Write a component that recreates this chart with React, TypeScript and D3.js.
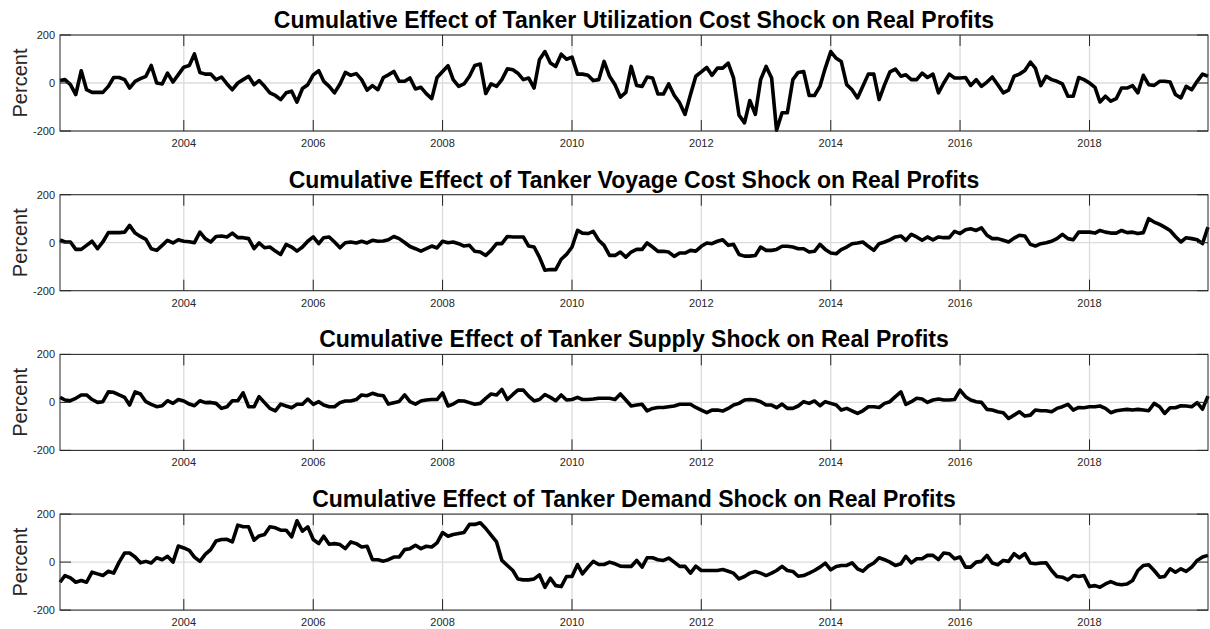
import { useMemo } from "react";
import * as d3 from "d3";

// monthly observations, Feb 2002 .. Nov 2019
const START = new Date(2002, 1, 1);

const utilization = [
  10, 14, -7, -48, 51, -28, -39, -39, -39, -14, 23, 23,
  14, -21, 7, 18, 28, 73, 0, -4, 41, 4, 35, 66,
  73, 121, 44, 37, 37, 14, 25, -4, -28, 0, 14, 28,
  -7, 10, -14, -41, -52, -69, -41, -34, -80, -23, -7, 34,
  51, 7, -14, -41, -4, 44, 32, 39, 14, -30, -11, -28,
  23, 34, 48, 7, 7, 21, -25, -18, -44, -65, 23, 48,
  72, 14, -14, -4, 28, 73, 79, -44, -4, -14, 14, 59,
  55, 41, 14, 21, -21, 97, 131, 83, 69, 120, 99, 108,
  37, 37, 32, 10, 14, 90, 28, -7, -59, -39, 69, -10,
  -14, 25, 21, -46, -46, -4, -51, -83, -131, -48, 28, 46,
  65, 32, 62, 62, 83, 21, -134, -166, -73, -131, 14, 69,
  21, -197, -124, -124, 14, 44, 48, -52, -52, -14, 62, 131,
  103, 90, -7, -28, -62, -14, 37, 37, -69, -7, 46, 58,
  28, 34, 14, 14, 41, 23, 37, -41, 0, 37, 21, 21,
  23, -10, 14, -14, 4, 25, -7, -41, -30, 28, 37, 52,
  87, 62, -11, 28, 14, 7, -4, -55, -55, 23, 14, 0,
  -18, -79, -55, -76, -65, -21, -21, -11, -41, 32, -7, -10,
  7, 7, 4, -48, -62, -14, -28, 7, 37, 28,
];

const voyage = [
  12, 3, 3, -28, -28, -11, 6, -25, 3, 42, 42, 42,
  44, 72, 40, 26, 14, -25, -32, -11, 10, -1, 12, 6,
  4, 0, 44, 17, 3, 26, 28, 24, 40, 21, 21, 17,
  -25, -1, -21, -18, -35, -49, -7, -18, -35, -18, 6, 24,
  -4, 21, 24, 3, -21, 0, 3, -1, 6, -1, 10, 6,
  7, 12, 26, 17, 1, -16, -25, -35, -25, -14, -22, 6,
  0, 3, -4, -14, -11, -36, -39, -53, -32, -4, -4, 26,
  24, 24, 24, -14, -18, -60, -115, -112, -112, -69, -49, -18,
  51, 40, 38, 47, 10, -11, -53, -53, -39, -60, -39, -28,
  -28, -1, -18, -36, -36, -39, -57, -43, -43, -32, -35, -15,
  -1, -4, 6, 12, -11, -7, -49, -56, -56, -53, -18, -32,
  -32, -28, -15, -15, -18, -25, -25, -39, -36, -7, -28, -43,
  -46, -29, -18, -4, -1, 3, -15, -32, -4, 3, 12, 24,
  28, 10, 35, 24, 10, 24, 12, 24, 21, 21, 47, 38,
  54, 58, 51, 62, 31, 17, 17, 10, 3, 19, 31, 28,
  -7, -14, -4, 0, 6, 17, 35, 17, 12, 44, 44, 44,
  40, 51, 44, 40, 40, 51, 42, 44, 38, 42, 100, 86,
  76, 65, 51, 26, 3, 21, 17, 12, -4, 65,
];

const supply = [
  21, 10, 7, 17, 31, 31, 12, 0, 3, 44, 42, 31,
  21, -11, 44, 35, 3, -8, -18, -14, 7, -4, 12, 6,
  -7, -14, 7, -1, 0, -4, -25, -18, 7, 7, 40, -18,
  -18, 24, -1, -25, -35, -7, -15, -22, -8, -8, 14, -8,
  3, -11, -18, -18, -1, 6, 6, 12, 31, 28, 38, 31,
  28, -7, -1, 4, 31, 3, -7, 6, 10, 12, 12, 40,
  -15, -7, 7, 6, -1, -8, -4, 17, 35, 31, 54, 12,
  33, 51, 51, 26, 6, 12, 33, 21, 7, 31, 10, 12,
  21, 12, 12, 14, 17, 17, 17, 12, 35, 10, -15, -11,
  -8, -35, -25, -21, -21, -18, -15, -8, -8, -8, -21, -32,
  -43, -32, -32, -36, -25, -11, -4, 10, 12, 10, 3, -11,
  -11, -22, -7, -25, -25, -15, 3, -4, 6, -14, 3, -4,
  -11, -32, -25, -35, -46, -35, -18, -18, -21, -4, 3, 24,
  44, -8, 3, 17, 14, 0, 10, 14, 10, 10, 12, 51,
  24, 10, 3, 0, -29, -32, -39, -43, -67, -53, -39, -57,
  -53, -32, -35, -35, -39, -25, -18, -8, -32, -21, -22, -18,
  -18, -15, -25, -43, -35, -32, -29, -32, -29, -32, -35, -4,
  -18, -46, -22, -22, -14, -15, -18, -1, -28, 26,
];

const demand = [
  -84, -56, -66, -84, -77, -84, -42, -49, -56, -38, -46, 0,
  38, 38, 21, -3, 3, -4, 18, 10, 24, 0, 67, 59,
  49, 21, 3, 32, 52, 88, 94, 95, 84, 154, 147, 147,
  91, 109, 115, 147, 143, 133, 133, 105, 172, 129, 147, 94,
  77, 108, 74, 77, 73, 56, 84, 77, 63, 66, 10, 10,
  4, 10, 21, 21, 52, 56, 70, 56, 66, 63, 80, 123,
  108, 115, 119, 123, 157, 157, 164, 140, 112, 84, 7, -14,
  -35, -70, -74, -74, -70, -53, -105, -67, -98, -102, -60, -60,
  -10, -49, -21, 3, -10, -10, 0, -7, -17, -18, -18, 7,
  -21, 18, 18, 10, 7, 17, 0, -18, -18, -46, -17, -35,
  -35, -35, -35, -31, -38, -46, -70, -60, -46, -39, -46, -56,
  -46, -35, -18, -35, -39, -59, -56, -46, -35, -21, -4, -32,
  -18, -14, -14, -3, -28, -38, -17, -4, 18, 10, 0, -14,
  -7, 24, -3, 14, 14, 28, 28, 10, 38, 35, 14, 21,
  -21, -21, 0, 3, 28, -4, -11, 7, 3, 35, 18, 35,
  -4, -7, -4, -3, -35, -60, -63, -74, -56, -60, -56, -102,
  -98, -105, -91, -81, -91, -94, -91, -77, -35, -14, -11, -35,
  -63, -60, -28, -42, -28, -39, -21, 7, 21, 28,
];

const titles = [
  "Cumulative Effect of Tanker Utilization Cost Shock on Real Profits",
  "Cumulative Effect of Tanker Voyage Cost Shock on Real Profits",
  "Cumulative Effect of Tanker Supply Shock on Real Profits",
  "Cumulative Effect of Tanker Demand Shock on Real Profits",
];
const series = [utilization, voyage, supply, demand];
const yTicks = [-200, 0, 200];
const yLabel = "Percent";

const W = 1210;
const H = 629;
const LEFT = 60;
const RIGHT = 1208;
const TOP0 = 35;
const STEP = 159.7;
const PH = 96;
const TICK = 11;
const FONT = "'Liberation Sans', Arial, Helvetica, sans-serif";
const AXIS = "#262626";

type PanelProps = { values: number[]; title: string; top: number };

const Panel = ({ values, title, top }: PanelProps) => {
  const dates = useMemo(() => values.map((_, i) => d3.timeMonth.offset(START, i)), [values]);
  const x = d3.scaleTime().domain(d3.extent(dates) as [Date, Date]).range([LEFT, RIGHT]);
  const y = d3.scaleLinear().domain([-200, 200]).range([top + PH, top]);
  const xTicks = x.ticks(d3.timeYear.every(2)!);
  const path = d3
    .line<number>()
    .x((_, i) => x(dates[i]))
    .y((d) => y(d))(values);
  const bottom = top + PH;

  return (
    <g>
      {/* grid */}
      {xTicks.map((t, i) => (
        <line key={"gx" + i} x1={x(t)} x2={x(t)} y1={top} y2={bottom} stroke="#dcdcdc" strokeWidth={1.3} />
      ))}
      {yTicks.map((v, i) => (
        <line key={"gy" + i} x1={LEFT} x2={RIGHT} y1={y(v)} y2={y(v)} stroke="#dcdcdc" strokeWidth={1.3} />
      ))}
      <path d={path || undefined} fill="none" stroke="#000" strokeWidth={3.6} strokeLinejoin="round" />
      <rect x={LEFT} y={top} width={RIGHT - LEFT} height={PH} fill="none" stroke={AXIS} strokeWidth={1} />
      {/* ticks, inward on all four sides */}
      {xTicks.map((t, i) => (
        <g key={"tx" + i}>
          <line x1={x(t)} x2={x(t)} y1={bottom} y2={bottom - TICK} stroke={AXIS} />
          <line x1={x(t)} x2={x(t)} y1={top} y2={top + TICK} stroke={AXIS} />
          <text x={x(t)} y={bottom + 16} textAnchor="middle" fontSize={11} fontFamily={FONT} fill={AXIS}>
            {d3.timeFormat("%Y")(t)}
          </text>
        </g>
      ))}
      {yTicks.map((v, i) => (
        <g key={"ty" + i}>
          <line x1={LEFT} x2={LEFT + TICK} y1={y(v)} y2={y(v)} stroke={AXIS} />
          <line x1={RIGHT} x2={RIGHT - TICK} y1={y(v)} y2={y(v)} stroke={AXIS} />
          <text x={LEFT - 5} y={y(v)} dy="0.35em" textAnchor="end" fontSize={11} fontFamily={FONT} fill={AXIS}>
            {String(v)}
          </text>
        </g>
      ))}
      <text
        transform={`translate(27, ${top + PH / 2}) rotate(-90)`}
        textAnchor="middle"
        fontSize={20}
        fontFamily={FONT}
        fill={AXIS}
      >
        {yLabel}
      </text>
      <text x={(LEFT + RIGHT) / 2} y={top - 7} textAnchor="middle" fontSize={23} fontWeight="bold" fontFamily={FONT} fill="#000">
        {title}
      </text>
    </g>
  );
};

const App = () => {
  return (
    <svg
      width={W}
      height={H}
      style={{ position: "absolute", left: 0, top: 0, background: "#fff" }}
    >
      <rect width={W} height={H} fill="#fff" />
      {series.map((s, k) => (
        <Panel key={k} values={s} title={titles[k]} top={TOP0 + k * STEP} />
      ))}
    </svg>
  );
};

export default App;
